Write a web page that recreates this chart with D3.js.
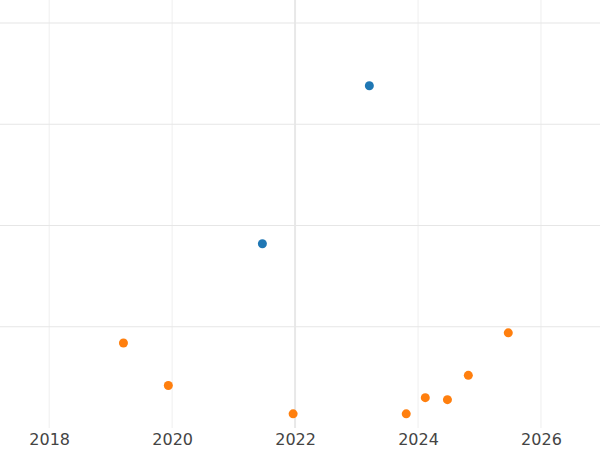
<!DOCTYPE html>
<html>
<head>
<script src="https://cdn.jsdelivr.net/npm/d3@7"></script>
<style>body{margin:0;background:#fff}</style>
</head>
<body>
<div id="chart"></div>
<script>
const xTicks = [2018, 2020, 2022, 2024, 2026];
const yGrid = [1, 2, 3, 4];
const blueX = [2023.2, 2021.46];
const blueY = [3.38, 1.82];
const orangeX = [2019.2, 2019.93, 2021.96, 2023.8, 2024.11, 2024.47, 2024.81, 2025.46];
const orangeY = [0.84, 0.42, 0.14, 0.14, 0.30, 0.28, 0.52, 0.94];

const width = 600, height = 450;
const x = d3.scaleLinear().domain([2017.2, 2026.96]).range([0, 600]);
const y = d3.scaleLinear().domain([0, 4]).range([428, 23]);

const svg = d3.select("#chart").append("svg")
    .attr("width", width).attr("height", height);

// grid
svg.append("g").selectAll("line").data(xTicks).enter().append("line")
    .attr("x1", d => x(d)).attr("x2", d => x(d))
    .attr("y1", 0).attr("y2", 428)
    .style("stroke", d => d == 2022 ? "#e8e8e8" : "#efefef")
    .style("stroke-width", d => d == 2022 ? 2 : 1);
svg.append("g").selectAll("line").data(yGrid).enter().append("line")
    .attr("x1", 0).attr("x2", width)
    .attr("y1", d => y(d)).attr("y2", d => y(d))
    .style("stroke", "#e6e6e6").style("stroke-width", 1.2);

// x axis
const ax = svg.append("g").attr("transform", "translate(0,428)")
    .call(d3.axisBottom(x).tickValues(xTicks).tickFormat(d3.format("d")).tickSize(0).tickPadding(6));
ax.select(".domain").remove();
ax.selectAll("text").style("font-family", "DejaVu Sans").style("font-size", "16px").style("fill", "#444");

// points
function dots(xs, ys, color) {
    svg.append("g").selectAll("circle").data(xs).enter().append("circle")
        .attr("cx", d => x(d) + 0.5).attr("cy", (d, i) => y(ys[i]))
        .attr("r", 4.5).style("fill", color);
}
dots(blueX, blueY, "#1f77b4");
dots(orangeX, orangeY, "#ff7f0e");
</script>
</body>
</html>
